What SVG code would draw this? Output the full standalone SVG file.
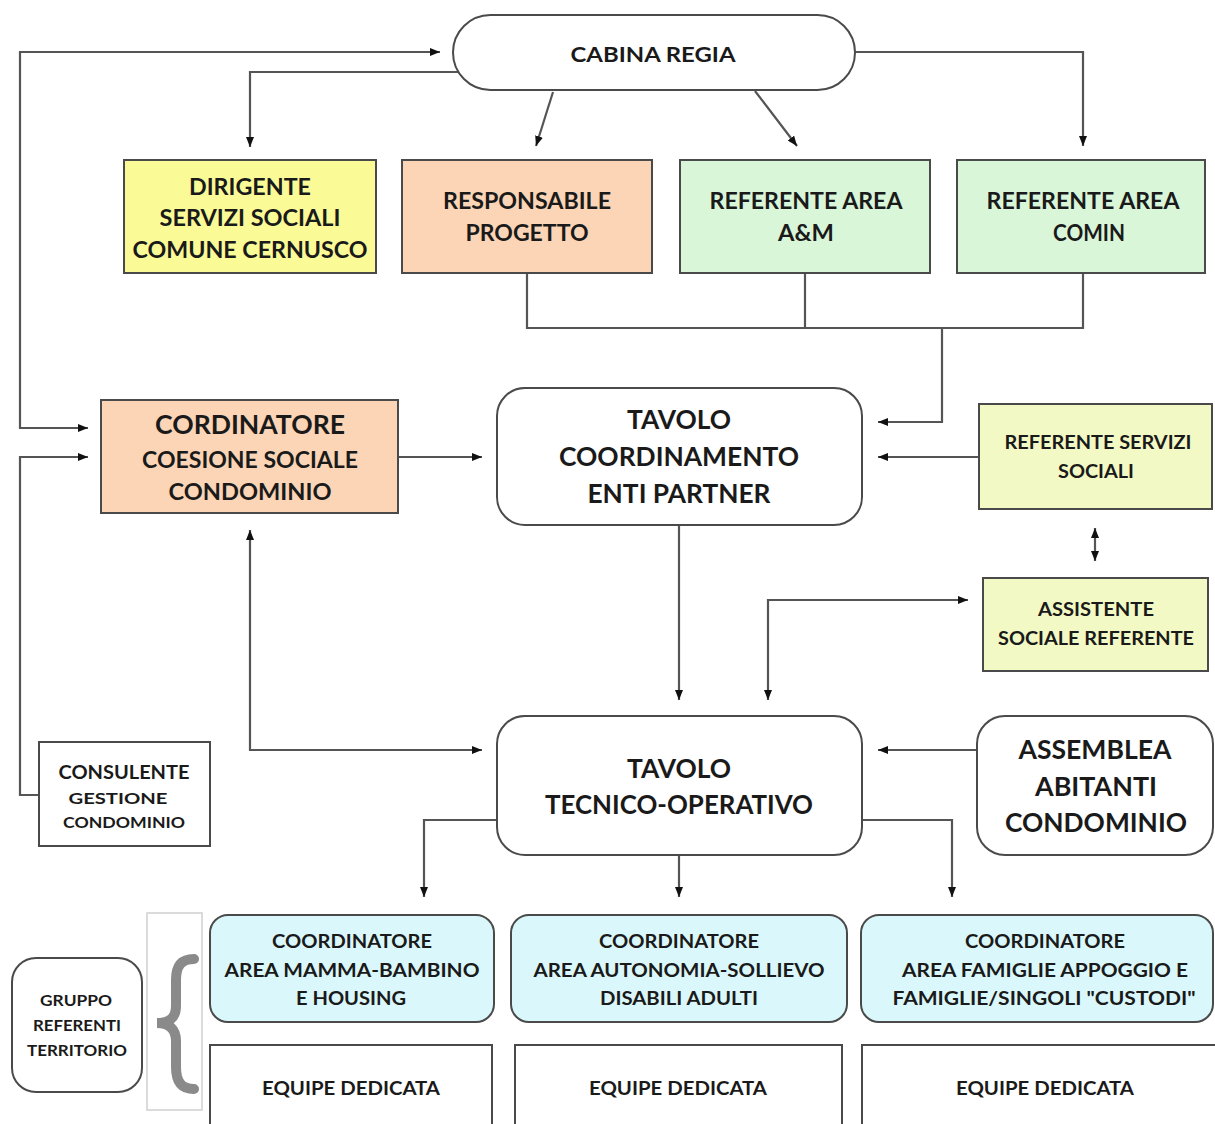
<svg xmlns="http://www.w3.org/2000/svg" width="1215" height="1124" viewBox="0 0 1215 1124">
<style>
text{font-family:Lato,"Open Sans","Liberation Sans",sans-serif;font-weight:bold;fill:#1a1a1a;text-anchor:middle}
.box{stroke:#4a4a4a;stroke-width:2}
.conn path{fill:none;stroke:#555;stroke-width:2.2}
.yel{fill:#FAFA96}.pch{fill:#FBD5B6}.grn{fill:#D9F6D9}.lyg{fill:#F3F9C4}.cyn{fill:#DAF8FB}.wht{fill:#fff}
</style>
<defs>
<marker id="ah" viewBox="0 0 10 8" refX="10" refY="4" markerWidth="10" markerHeight="8" markerUnits="userSpaceOnUse" orient="auto-start-reverse">
<path d="M0,0 L10,4 L0,8 z" fill="#111"/>
</marker>
</defs>
<rect width="1215" height="1124" fill="#fff"/>

<g class="conn">
<path d="M440,52 H20 V428 H88" marker-start="url(#ah)" marker-end="url(#ah)"/>
<path d="M462,72 H250 V147" marker-end="url(#ah)"/>
<path d="M553,92 L536,146" marker-end="url(#ah)"/>
<path d="M755,91 L797,146" marker-end="url(#ah)"/>
<path d="M855,52 H1083 V146" marker-end="url(#ah)"/>
<path d="M527,273 V328 H1083 V273 M805,273 V328"/>
<path d="M942,328 V422 H878" marker-end="url(#ah)"/>
<path d="M40,795 H20 V457 H88" marker-end="url(#ah)"/>
<path d="M398,457 H482" marker-end="url(#ah)"/>
<path d="M250,530 V750 H482" marker-start="url(#ah)" marker-end="url(#ah)"/>
<path d="M679,525 V700" marker-end="url(#ah)"/>
<path d="M768,700 V600 H968" marker-start="url(#ah)" marker-end="url(#ah)"/>
<path d="M979,457 H878" marker-end="url(#ah)"/>
<path d="M1095,528 V561" marker-start="url(#ah)" marker-end="url(#ah)"/>
<path d="M977,750 H878" marker-end="url(#ah)"/>
<path d="M497,820 H424 V897" marker-end="url(#ah)"/>
<path d="M679,855 V897" marker-end="url(#ah)"/>
<path d="M862,820 H952 V897" marker-end="url(#ah)"/>
</g>

<g id="cabina-regia">
<rect class="box wht" x="453" y="15" width="402" height="75" rx="37.5"/>
<text x="653" y="62" font-size="21" textLength="165" lengthAdjust="spacingAndGlyphs">CABINA REGIA</text>
</g>

<g id="dirigente">
<rect class="box yel" x="124" y="160" width="252" height="113"/>
<text x="250" y="195" font-size="22" textLength="122" lengthAdjust="spacingAndGlyphs">DIRIGENTE</text>
<text x="250" y="226" font-size="22" textLength="181" lengthAdjust="spacingAndGlyphs">SERVIZI SOCIALI</text>
<text x="250" y="258" font-size="22" textLength="235" lengthAdjust="spacingAndGlyphs">COMUNE CERNUSCO</text>
</g>

<g id="responsabile">
<rect class="box pch" x="402" y="160" width="250" height="113"/>
<text x="527" y="209" font-size="22" textLength="168" lengthAdjust="spacingAndGlyphs">RESPONSABILE</text>
<text x="527" y="241" font-size="22" textLength="123" lengthAdjust="spacingAndGlyphs">PROGETTO</text>
</g>

<g id="referente-am">
<rect class="box grn" x="680" y="160" width="250" height="113"/>
<text x="806" y="209" font-size="22" textLength="193" lengthAdjust="spacingAndGlyphs">REFERENTE AREA</text>
<text x="806" y="241" font-size="22" textLength="56" lengthAdjust="spacingAndGlyphs">A&amp;M</text>
</g>

<g id="referente-comin">
<rect class="box grn" x="957" y="160" width="248" height="113"/>
<text x="1083" y="209" font-size="22" textLength="193" lengthAdjust="spacingAndGlyphs">REFERENTE AREA</text>
<text x="1089" y="241" font-size="22" textLength="72" lengthAdjust="spacingAndGlyphs">COMIN</text>
</g>

<g id="cordinatore">
<rect class="box pch" x="101" y="400" width="297" height="113"/>
<text x="250" y="434" font-size="26" textLength="190" lengthAdjust="spacingAndGlyphs">CORDINATORE</text>
<text x="250" y="468" font-size="22" textLength="216" lengthAdjust="spacingAndGlyphs">COESIONE SOCIALE</text>
<text x="250" y="500" font-size="22" textLength="163" lengthAdjust="spacingAndGlyphs">CONDOMINIO</text>
</g>

<g id="tavolo-coordinamento">
<rect class="box wht" x="497" y="388" width="365" height="137" rx="28"/>
<text x="679" y="429" font-size="26" textLength="104" lengthAdjust="spacingAndGlyphs">TAVOLO</text>
<text x="679" y="466" font-size="26" textLength="240" lengthAdjust="spacingAndGlyphs">COORDINAMENTO</text>
<text x="679" y="503" font-size="26" textLength="183" lengthAdjust="spacingAndGlyphs">ENTI PARTNER</text>
</g>

<g id="referente-servizi">
<rect class="box lyg" x="979" y="404" width="233" height="105"/>
<text x="1098" y="449" font-size="19" textLength="187" lengthAdjust="spacingAndGlyphs">REFERENTE SERVIZI</text>
<text x="1096" y="478" font-size="19" textLength="76" lengthAdjust="spacingAndGlyphs">SOCIALI</text>
</g>

<g id="assistente-sociale">
<rect class="box lyg" x="983" y="578" width="225" height="93"/>
<text x="1096" y="616" font-size="19" textLength="116" lengthAdjust="spacingAndGlyphs">ASSISTENTE</text>
<text x="1096" y="645" font-size="19" textLength="196" lengthAdjust="spacingAndGlyphs">SOCIALE REFERENTE</text>
</g>

<g id="tavolo-tecnico">
<rect class="box wht" x="497" y="716" width="365" height="139" rx="28"/>
<text x="679" y="778" font-size="26" textLength="104" lengthAdjust="spacingAndGlyphs">TAVOLO</text>
<text x="679" y="814" font-size="26" textLength="268" lengthAdjust="spacingAndGlyphs">TECNICO-OPERATIVO</text>
</g>

<g id="assemblea">
<rect class="box wht" x="977" y="716" width="236" height="139" rx="28"/>
<text x="1095" y="759" font-size="26" textLength="153" lengthAdjust="spacingAndGlyphs">ASSEMBLEA</text>
<text x="1096" y="796" font-size="26" textLength="122" lengthAdjust="spacingAndGlyphs">ABITANTI</text>
<text x="1096" y="832" font-size="26" textLength="182" lengthAdjust="spacingAndGlyphs">CONDOMINIO</text>
</g>

<g id="consulente">
<rect class="box wht" x="39" y="742" width="171" height="104"/>
<text x="124" y="779" font-size="19" textLength="131" lengthAdjust="spacingAndGlyphs">CONSULENTE</text>
<text x="118" y="804" font-size="15" textLength="99" lengthAdjust="spacingAndGlyphs">GESTIONE</text>
<text x="124" y="828" font-size="15" textLength="122" lengthAdjust="spacingAndGlyphs">CONDOMINIO</text>
</g>

<g id="coord-mamma">
<rect class="box cyn" x="210" y="915" width="284" height="107" rx="18"/>
<text x="352" y="948" font-size="19" textLength="160" lengthAdjust="spacingAndGlyphs">COORDINATORE</text>
<text x="352" y="977" font-size="19" textLength="255" lengthAdjust="spacingAndGlyphs">AREA MAMMA-BAMBINO</text>
<text x="351" y="1005" font-size="19" textLength="110" lengthAdjust="spacingAndGlyphs">E HOUSING</text>
</g>

<g id="coord-autonomia">
<rect class="box cyn" x="511" y="915" width="336" height="107" rx="18"/>
<text x="679" y="948" font-size="19" textLength="160" lengthAdjust="spacingAndGlyphs">COORDINATORE</text>
<text x="679" y="977" font-size="19" textLength="291" lengthAdjust="spacingAndGlyphs">AREA AUTONOMIA-SOLLIEVO</text>
<text x="679" y="1005" font-size="19" textLength="158" lengthAdjust="spacingAndGlyphs">DISABILI ADULTI</text>
</g>

<g id="coord-famiglie">
<rect class="box cyn" x="861" y="915" width="352" height="107" rx="18"/>
<text x="1045" y="948" font-size="19" textLength="160" lengthAdjust="spacingAndGlyphs">COORDINATORE</text>
<text x="1045" y="977" font-size="19" textLength="286" lengthAdjust="spacingAndGlyphs">AREA FAMIGLIE APPOGGIO E</text>
<text x="1044" y="1005" font-size="19" textLength="303" lengthAdjust="spacingAndGlyphs">FAMIGLIE/SINGOLI "CUSTODI"</text>
</g>

<g id="equipe-1">
<rect class="box wht" x="210" y="1045" width="282" height="120"/>
<text x="351" y="1095" font-size="19" textLength="178" lengthAdjust="spacingAndGlyphs">EQUIPE DEDICATA</text>
</g>
<g id="equipe-2">
<rect class="box wht" x="515" y="1045" width="327" height="120"/>
<text x="678" y="1095" font-size="19" textLength="178" lengthAdjust="spacingAndGlyphs">EQUIPE DEDICATA</text>
</g>
<g id="equipe-3">
<rect class="box wht" x="862" y="1045" width="400" height="120"/>
<text x="1045" y="1095" font-size="19" textLength="178" lengthAdjust="spacingAndGlyphs">EQUIPE DEDICATA</text>
</g>

<g id="gruppo-referenti">
<rect class="box wht" x="12" y="958" width="130" height="134" rx="24"/>
<text x="76" y="1006" font-size="15" textLength="72" lengthAdjust="spacingAndGlyphs">GRUPPO</text>
<text x="77" y="1031" font-size="15" textLength="88" lengthAdjust="spacingAndGlyphs">REFERENTI</text>
<text x="77" y="1056" font-size="15" textLength="100" lengthAdjust="spacingAndGlyphs">TERRITORIO</text>
</g>

<g id="brace">
<rect x="147" y="913" width="55" height="197" fill="#fff" stroke="#cfcfcf" stroke-width="1.5"/>
<path d="M194,959 C181,959 176,966 176,980 L176,1006 C176,1018 169,1023 157,1023 C169,1023 176,1029 176,1041 L176,1067 C176,1081 181,1089 194,1089" fill="none" stroke="#8a8a8a" stroke-width="10" stroke-linecap="round"/>
</g>
</svg>
